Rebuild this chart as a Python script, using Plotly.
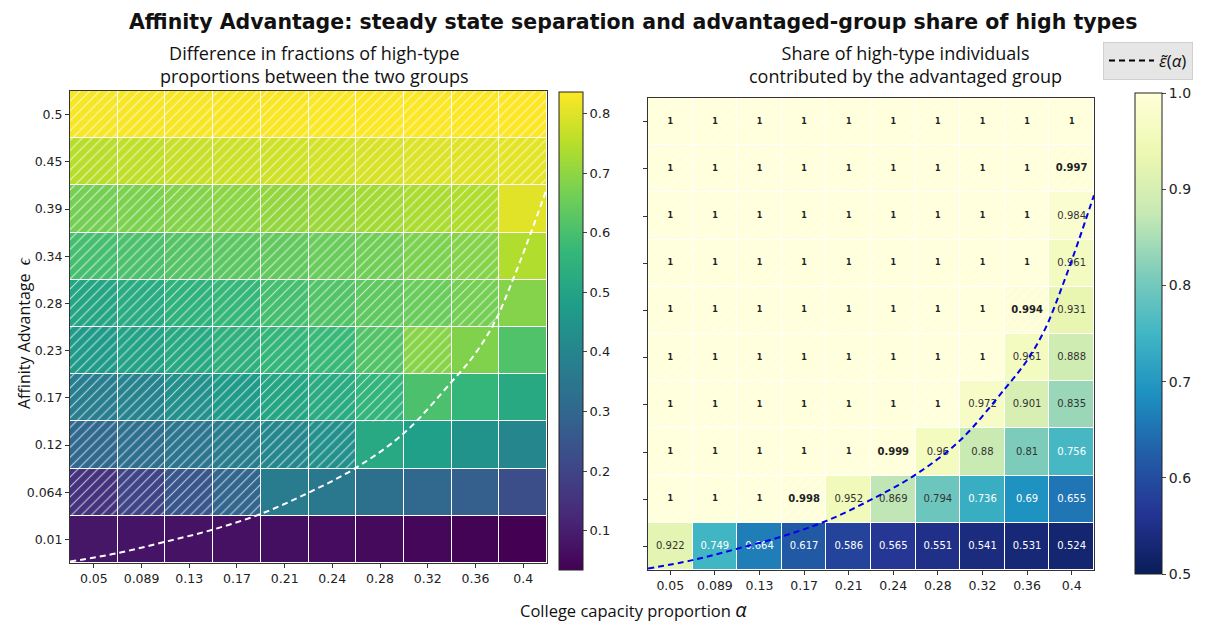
import plotly.graph_objects as go
from plotly.colors import sequential

# axes values
alpha = [0.05, 0.0889, 0.1278, 0.1667, 0.2056, 0.2444, 0.2833, 0.3222, 0.3611, 0.4]
alpha_labels = ["0.05", "0.089", "0.13", "0.17", "0.21", "0.24", "0.28", "0.32", "0.36", "0.4"]
eps = [0.01, 0.0644, 0.1189, 0.1733, 0.2278, 0.2822, 0.3367, 0.3911, 0.4456, 0.5]
eps_labels = ["0.01", "0.064", "0.12", "0.17", "0.23", "0.28", "0.34", "0.39", "0.45", "0.5"]

# left panel: difference in high-type fractions (rows = eps, bottom to top)
sep = [
    [0.082, 0.078, 0.074, 0.070, 0.066, 0.060, 0.054, 0.047, 0.040, 0.034],
    [0.150, 0.200, 0.250, 0.295, 0.370, 0.355, 0.330, 0.300, 0.275, 0.227],
    [0.300, 0.325, 0.345, 0.375, 0.405, 0.435, 0.515, 0.485, 0.445, 0.405],
    [0.375, 0.395, 0.435, 0.470, 0.505, 0.525, 0.560, 0.605, 0.565, 0.517],
    [0.470, 0.495, 0.520, 0.545, 0.565, 0.575, 0.615, 0.690, 0.680, 0.610],
    [0.505, 0.525, 0.550, 0.570, 0.595, 0.615, 0.635, 0.650, 0.665, 0.685],
    [0.595, 0.605, 0.620, 0.630, 0.640, 0.650, 0.660, 0.675, 0.685, 0.740],
    [0.665, 0.675, 0.685, 0.695, 0.705, 0.715, 0.725, 0.735, 0.740, 0.800],
    [0.750, 0.760, 0.770, 0.775, 0.780, 0.785, 0.790, 0.795, 0.800, 0.805],
    [0.826, 0.828, 0.829, 0.830, 0.831, 0.832, 0.833, 0.834, 0.835, 0.836],
]

# right panel: share of high types from the advantaged group
share = [
    [0.922, 0.749, 0.664, 0.617, 0.586, 0.565, 0.551, 0.541, 0.531, 0.524],
    [1, 1, 1, 0.998, 0.952, 0.869, 0.794, 0.736, 0.69, 0.655],
    [1, 1, 1, 1, 1, 0.999, 0.96, 0.88, 0.81, 0.756],
    [1, 1, 1, 1, 1, 1, 1, 0.972, 0.901, 0.835],
    [1, 1, 1, 1, 1, 1, 1, 1, 0.961, 0.888],
    [1, 1, 1, 1, 1, 1, 1, 1, 0.994, 0.931],
    [1, 1, 1, 1, 1, 1, 1, 1, 1, 0.961],
    [1, 1, 1, 1, 1, 1, 1, 1, 1, 0.984],
    [1, 1, 1, 1, 1, 1, 1, 1, 1, 0.997],
    [1, 1, 1, 1, 1, 1, 1, 1, 1, 1],
]

# cells above the threshold curve (hatched)
hatched = [
    [0, 0, 0, 0, 0, 0, 0, 0, 0, 0],
    [1, 1, 1, 1, 0, 0, 0, 0, 0, 0],
    [1, 1, 1, 1, 1, 1, 0, 0, 0, 0],
    [1, 1, 1, 1, 1, 1, 1, 0, 0, 0],
    [1, 1, 1, 1, 1, 1, 1, 1, 0, 0],
    [1, 1, 1, 1, 1, 1, 1, 1, 1, 0],
    [1, 1, 1, 1, 1, 1, 1, 1, 1, 0],
    [1, 1, 1, 1, 1, 1, 1, 1, 1, 0],
    [1, 1, 1, 1, 1, 1, 1, 1, 1, 1],
    [1, 1, 1, 1, 1, 1, 1, 1, 1, 1],
]

# threshold curve eps~(alpha)
curve_alpha = [0.0306, 0.0694, 0.1083, 0.1472, 0.1861, 0.2250, 0.2639, 0.3028,
               0.3417, 0.3611, 0.3773, 0.3922, 0.4058, 0.4194]
curve_eps = [-0.0156, -0.0058, 0.0073, 0.0214, 0.0394, 0.0639, 0.0928, 0.1325,
             0.1918, 0.2246, 0.2621, 0.3116, 0.3617, 0.4151]

# page has an 8px body margin, so size the figure to fit the window
OFF = 8
W, H = 1209 - OFF, 628 - OFF
FONT = "Open Sans"
TICKFONT = "DejaVu Sans"


def fx(p):
    return (p - OFF) / W


def fy(p):
    return 1 - (p - OFF) / H


da = alpha[1] - alpha[0]
de = eps[1] - eps[0]
xr = [alpha[0] - da / 2, alpha[-1] + da / 2]
yr = [eps[0] - de / 2, eps[-1] + de / 2]

ylgnbu = sequential.YlGnBu[::-1]
ylgnbu_scale = [[i / (len(ylgnbu) - 1), c] for i, c in enumerate(ylgnbu)]

hx, hbase = [], []
for r in range(len(eps)):
    for c in range(len(alpha)):
        if hatched[r][c]:
            hx.append(alpha[c])
            hbase.append(eps[r] - de / 2)

flat_min = min(min(r) for r in sep)
flat_max = max(max(r) for r in sep)

fig = go.Figure()

fig.add_trace(go.Heatmap(
    x=alpha, y=eps, z=sep, colorscale="Viridis", zmin=flat_min, zmax=flat_max,
    xgap=1, ygap=1, xaxis="x", yaxis="y", hoverinfo="skip",
    colorbar=dict(x=fx(559), xanchor="left", xpad=0, ypad=0, thickness=24,
                  len=(570 - 92) / H, lenmode="fraction", y=fy(331), yanchor="middle",
                  outlinewidth=1, outlinecolor="#222",
                  tickvals=[0.1, 0.2, 0.3, 0.4, 0.5, 0.6, 0.7, 0.8],
                  ticks="outside", ticklen=4,
                  tickfont=dict(size=13, color="#222", family=TICKFONT)),
))
fig.add_trace(go.Heatmap(
    x=alpha, y=eps, z=share, colorscale=ylgnbu_scale, zmin=0.5, zmax=1.0,
    xgap=1, ygap=1, xaxis="x2", yaxis="y2", hoverinfo="skip",
    colorbar=dict(x=fx(1135), xanchor="left", xpad=0, ypad=0, thickness=27,
                  len=(574 - 93) / H, lenmode="fraction", y=fy(333.5), yanchor="middle",
                  outlinewidth=1, outlinecolor="#222",
                  tickvals=[0.5, 0.6, 0.7, 0.8, 0.9, 1.0], tickformat=".1f",
                  ticks="outside", ticklen=4,
                  tickfont=dict(size=14, color="#222", family=TICKFONT)),
))

for xa, ya in [("x", "y"), ("x2", "y2")]:
    fig.add_trace(go.Bar(
        x=hx, y=[de] * len(hx), base=hbase, width=da, xaxis=xa, yaxis=ya,
        showlegend=False, hoverinfo="skip",
        marker=dict(color="rgba(0,0,0,0)", line=dict(width=0),
                    pattern=dict(shape="/", fgcolor="white", fgopacity=0.7,
                                 size=7, solidity=0.15, fillmode="overlay")),
    ))

# cell labels on the right panel
tx, ty, tt, tsize, tcol = [], [], [], [], []
for r in range(len(eps)):
    for c in range(len(alpha)):
        v = share[r][c]
        s = f"{v:.3g}"
        tx.append(alpha[c])
        ty.append(eps[r])
        if hatched[r][c]:
            tt.append(f"<b>{s}</b>")
            tsize.append(8 if v == 1 else 10)
            tcol.append("#222")
        else:
            tt.append(s)
            tsize.append(10)
            tcol.append("white" if v < 0.77 else "#333")
fig.add_trace(go.Scatter(
    x=tx, y=ty, text=tt, mode="text", xaxis="x2", yaxis="y2",
    textfont=dict(size=tsize, color=tcol, family=TICKFONT), showlegend=False, hoverinfo="skip",
))

fig.add_trace(go.Scatter(
    x=curve_alpha, y=curve_eps, mode="lines", xaxis="x", yaxis="y",
    line=dict(color="white", width=2, dash="6px,4px", shape="spline"),
    showlegend=False, hoverinfo="skip",
))
fig.add_trace(go.Scatter(
    x=curve_alpha, y=curve_eps, mode="lines", xaxis="x2", yaxis="y2",
    line=dict(color="#0000ee", width=2, dash="6px,4px", shape="spline"),
    showlegend=False, hoverinfo="skip",
))
fig.add_trace(go.Scatter(
    x=[None], y=[None], mode="lines", name="<i>ε̃</i>(<i>α</i>)",
    line=dict(color="black", width=2, dash="6px,4px"), xaxis="x2", yaxis="y2",
))

axis_common = dict(showline=True, mirror=True, linecolor="#333", linewidth=1,
                   ticks="outside", ticklen=4, tickcolor="#333", showgrid=False,
                   zeroline=False, tickfont=dict(size=12.5, color="#222", family=TICKFONT))

fig.update_layout(
    width=W, height=H,
    margin=dict(l=0, r=0, t=0, b=0),
    paper_bgcolor="white", plot_bgcolor="white",
    font=dict(family=FONT, color="#111"),
    barmode="overlay",
    xaxis=dict(domain=[fx(70), fx(547)], range=xr, tickvals=alpha, ticktext=alpha_labels,
               anchor="y", **axis_common),
    yaxis=dict(domain=[fy(563), fy(91)], range=yr, tickvals=eps, ticktext=eps_labels,
               anchor="x", **axis_common),
    xaxis2=dict(domain=[fx(648), fx(1094)], range=xr, tickvals=alpha, ticktext=alpha_labels,
                anchor="y2", **axis_common),
    yaxis2=dict(domain=[fy(570), fy(98)], range=yr, tickvals=eps, showticklabels=False,
                anchor="x2", **axis_common),
    legend=dict(x=fx(1103), y=fy(42), xanchor="left", yanchor="top",
                bgcolor="#e6e6e6", bordercolor="#d0d0d0", borderwidth=1,
                itemwidth=45, font=dict(size=17, color="#111")),
    annotations=[
        dict(text="<b>Affinity Advantage: steady state separation and advantaged-group share of high types</b>",
             x=fx(633), y=1, xref="paper", yref="paper", showarrow=False,
             xanchor="center", yanchor="top",
             font=dict(size=20.5, color="#111", family="DejaVu Sans")),
        dict(text="Difference in fractions of high-type<br>proportions between the two groups",
             x=fx(314), y=fy(64), xref="paper", yref="paper", showarrow=False,
             xanchor="center", yanchor="middle",
             font=dict(size=18, color="#111")),
        dict(text="Share of high-type individuals<br>contributed by the advantaged group",
             x=fx(905), y=fy(64), xref="paper", yref="paper", showarrow=False,
             xanchor="center", yanchor="middle",
             font=dict(size=18, color="#111")),
        dict(text="College capacity proportion <span style='font-size:20px'><i>α</i></span>",
             x=fx(633), y=fy(609), xref="paper", yref="paper", showarrow=False,
             xanchor="center", yanchor="middle",
             font=dict(size=16.5, color="#111")),
        dict(text="Affinity Advantage  <span style='font-size:18px'><i>ϵ</i></span>",
             x=fx(23), y=fy(333), xref="paper", yref="paper", showarrow=False,
             xanchor="center", yanchor="middle",
             textangle=-90, font=dict(size=16, color="#111")),
    ],
)

fig.write_html("out.html")
